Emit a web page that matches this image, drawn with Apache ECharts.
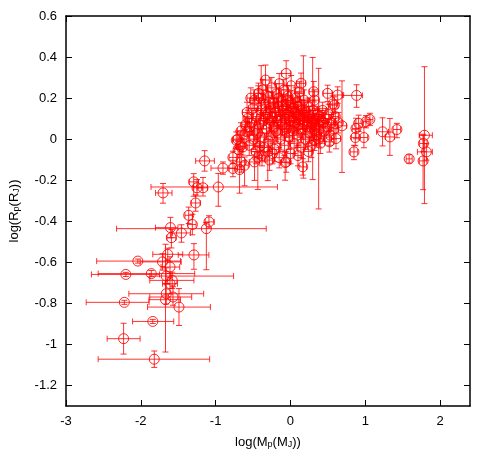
<!DOCTYPE html>
<html>
<head>
<meta charset="utf-8">
<script src="https://cdn.jsdelivr.net/npm/echarts@6/dist/echarts.min.js"></script>
<style>
  html, body { margin: 0; padding: 0; background: #fff; }
  #chart { width: 494px; height: 463px; }
</style>
</head>
<body>
<div id="chart"></div>
<script>
// each row: [log Mp, log Rp, mass err -, mass err +, radius err -, radius err +]
var lowMassPlanets = [
  [-2.04, -0.594, 0.55, 0.57, 0.01, 0.01],
  [-1.64, -0.561, 0.20, 0.20, 0.03, 0.03],
  [-1.29, -0.564, 0.21, 0.20, 0.07, 0.055],
  [-1.71, -0.598, 0.30, 0.25, 0.04, 0.04],
  [-1.61, -0.623, 0.12, 0.13, 0.05, 0.05],
  [-2.20, -0.659, 0.46, 0.45, 0.01, 0.01],
  [-1.86, -0.655, 0.71, 0.58, 0.015, 0.015],
  [-1.66, -0.667, 0.22, 0.90, 0.04, 0.04],
  [-1.58, -0.688, 0.30, 0.29, 0.04, 0.04],
  [-1.61, -0.704, 0.10, 0.10, 0.05, 0.05],
  [-1.66, -0.753, 0.50, 0.50, 0.05, 0.05],
  [-1.57, -0.769, 0.31, 0.25, 0.04, 0.05],
  [-1.67, -0.782, 0.22, 0.20, 0.255, 0.27],
  [-1.49, -0.818, 0.42, 0.42, 0.09, 0.09],
  [-2.22, -0.795, 0.51, 0.33, 0.01, 0.01],
  [-1.84, -0.888, 0.27, 0.28, 0.01, 0.01],
  [-2.23, -0.972, 0.22, 0.22, 0.075, 0.075],
  [-1.82, -1.072, 0.75, 0.74, 0.04, 0.04]
];

var transitionPlanets = [
  [-1.147, -0.106, 0.12, 0.13, 0.05, 0.05],
  [-0.902, -0.141, 0.16, 0.16, 0.03, 0.03],
  [-0.680, -0.148, 0.05, 0.05, 0.115, 0.10],
  [-1.703, -0.262, 0.10, 0.12, 0.05, 0.046],
  [-1.293, -0.208, 0.06, 0.06, 0.07, 0.04],
  [-1.169, -0.237, 0.08, 0.06, 0.04, 0.05],
  [-1.249, -0.237, 0.05, 0.07, 0.04, 0.04],
  [-0.964, -0.233, 0.90, 0.79, 0.094, 0.066],
  [-1.267, -0.311, 0.06, 0.06, 0.04, 0.04],
  [-1.360, -0.371, 0.05, 0.05, 0.04, 0.04],
  [-1.311, -0.416, 0.06, 0.05, 0.05, 0.05],
  [-1.089, -0.403, 0.05, 0.07, 0.03, 0.03],
  [-1.124, -0.436, 1.20, 0.80, 0.20, 0.03],
  [-1.604, -0.431, 0.20, 0.10, 0.05, 0.05],
  [-1.457, -0.457, 0.12, 0.12, 0.045, 0.04],
  [-1.591, -0.480, 0.06, 0.06, 0.05, 0.04],
  [-0.769, -0.089, 0.05, 0.05, 0.03, 0.03],
  [-0.657, -0.111, 0.06, 0.06, 0.05, 0.05],
  [-0.480, -0.111, 0.07, 0.07, 0.09, 0.05],
  [-0.436, -0.089, 0.05, 0.05, 0.156, 0.06],
  [-0.303, -0.062, 0.06, 0.06, 0.14, 0.06],
  [-0.071, -0.114, 0.06, 0.06, 0.086, 0.05],
  [-0.703, 0.000, 0.06, 0.05, 0.04, 0.04],
  [-0.636, -0.038, 0.05, 0.05, 0.04, 0.04],
  [-0.569, 0.101, 0.05, 0.05, 0.04, 0.04],
  [-0.547, 0.060, 0.05, 0.05, 0.04, 0.04],
  [-0.582, 0.036, 0.05, 0.06, 0.05, 0.05],
  [-0.493, 0.000, 0.05, 0.05, 0.05, 0.05],
  [-0.413, -0.034, 0.06, 0.06, 0.06, 0.05],
  [-0.769, -0.143, 0.05, 0.06, 0.04, 0.04],
  [-0.613, -0.127, 0.05, 0.05, 0.10, 0.04],
  [-0.671, -0.034, 0.05, 0.05, 0.04, 0.04],
  [-0.724, -0.005, 0.05, 0.05, 0.04, 0.04],
  [-0.280, -0.102, 0.05, 0.05, 0.05, 0.05],
  [0.164, -0.135, 0.05, 0.05, 0.04, 0.04],
  [-0.057, -0.111, 0.06, 0.06, 0.05, 0.05]
];

var clusterPlanets = [
  [-0.057, 0.320, 0.06, 0.06, 0.06, 0.062],
  [-0.333, 0.288, 0.05, 0.05, 0.05, 0.073],
  [0.142, 0.272, 0.06, 0.06, 0.05, 0.05],
  [0.311, 0.231, 0.06, 0.06, 0.05, 0.05],
  [-0.427, 0.223, 0.06, 0.06, 0.05, 0.05],
  [-0.480, 0.190, 0.06, 0.06, 0.05, 0.05],
  [0.320, 0.190, 0.06, 0.06, 0.05, 0.05],
  [0.609, 0.003, 0.06, 0.06, 0.05, 0.05],
  [0.387, 0.011, 0.07, 0.07, 0.05, 0.05],
  [0.520, -0.013, 0.06, 0.06, 0.05, 0.05],
  [0.320, -0.005, 0.06, 0.06, 0.05, 0.05],
  [0.173, 0.110, 0.07, 0.07, 0.30, 0.296],
  [0.297, 0.100, 0.07, 0.07, 0.297, 0.298],
  [0.377, 0.000, 0.07, 0.07, 0.34, 0.345],
  [-0.391, 0.200, 0.06, 0.06, 0.10, 0.158],
  [-0.62, 0.02, 0.05, 0.05, 0.04, 0.04],
  [-0.58, 0.13, 0.06, 0.06, 0.05, 0.05],
  [-0.55, -0.03, 0.05, 0.05, 0.05, 0.05],
  [-0.52, 0.08, 0.05, 0.06, 0.04, 0.04],
  [-0.50, 0.15, 0.06, 0.06, 0.05, 0.05],
  [-0.48, 0.04, 0.05, 0.05, 0.05, 0.05],
  [-0.46, -0.06, 0.06, 0.06, 0.06, 0.06],
  [-0.45, 0.11, 0.05, 0.05, 0.04, 0.04],
  [-0.43, 0.20, 0.05, 0.05, 0.06, 0.06],
  [-0.42, 0.07, 0.06, 0.06, 0.05, 0.05],
  [-0.40, 0.01, 0.05, 0.05, 0.05, 0.05],
  [-0.39, 0.14, 0.07, 0.07, 0.05, 0.05],
  [-0.37, 0.24, 0.05, 0.05, 0.05, 0.05],
  [-0.36, 0.09, 0.05, 0.05, 0.04, 0.04],
  [-0.35, -0.04, 0.06, 0.06, 0.07, 0.07],
  [-0.34, 0.17, 0.05, 0.05, 0.05, 0.05],
  [-0.32, 0.05, 0.06, 0.06, 0.05, 0.05],
  [-0.31, 0.12, 0.05, 0.05, 0.04, 0.04],
  [-0.30, 0.21, 0.06, 0.06, 0.05, 0.05],
  [-0.29, -0.01, 0.05, 0.05, 0.05, 0.05],
  [-0.28, 0.08, 0.06, 0.06, 0.05, 0.05],
  [-0.27, 0.15, 0.05, 0.05, 0.05, 0.05],
  [-0.26, 0.02, 0.05, 0.05, 0.06, 0.06],
  [-0.25, 0.25, 0.06, 0.06, 0.05, 0.05],
  [-0.24, 0.11, 0.05, 0.05, 0.04, 0.04],
  [-0.23, 0.18, 0.06, 0.06, 0.05, 0.05],
  [-0.22, 0.06, 0.05, 0.05, 0.05, 0.05],
  [-0.21, -0.05, 0.05, 0.05, 0.06, 0.06],
  [-0.20, 0.13, 0.06, 0.06, 0.05, 0.05],
  [-0.19, 0.22, 0.05, 0.05, 0.05, 0.05],
  [-0.18, 0.09, 0.05, 0.05, 0.04, 0.04],
  [-0.17, 0.03, 0.06, 0.06, 0.05, 0.05],
  [-0.16, 0.16, 0.05, 0.05, 0.05, 0.05],
  [-0.15, 0.27, 0.05, 0.05, 0.05, 0.05],
  [-0.14, 0.12, 0.06, 0.06, 0.04, 0.04],
  [-0.13, 0.00, 0.05, 0.05, 0.06, 0.06],
  [-0.12, 0.19, 0.05, 0.05, 0.05, 0.05],
  [-0.11, 0.07, 0.06, 0.06, 0.05, 0.05],
  [-0.10, 0.14, 0.05, 0.05, 0.04, 0.04],
  [-0.09, 0.24, 0.06, 0.06, 0.05, 0.05],
  [-0.08, -0.03, 0.05, 0.05, 0.05, 0.05],
  [-0.07, 0.10, 0.05, 0.05, 0.05, 0.05],
  [-0.06, 0.17, 0.06, 0.06, 0.05, 0.05],
  [-0.05, 0.05, 0.05, 0.05, 0.04, 0.04],
  [-0.04, 0.21, 0.05, 0.05, 0.05, 0.05],
  [-0.03, 0.13, 0.06, 0.06, 0.05, 0.05],
  [-0.02, 0.01, 0.05, 0.05, 0.06, 0.06],
  [-0.01, 0.09, 0.05, 0.05, 0.04, 0.04],
  [0.00, 0.18, 0.06, 0.06, 0.05, 0.05],
  [0.01, 0.26, 0.05, 0.05, 0.05, 0.05],
  [0.02, 0.11, 0.05, 0.05, 0.05, 0.05],
  [0.03, 0.04, 0.06, 0.06, 0.05, 0.05],
  [0.04, 0.15, 0.05, 0.05, 0.04, 0.04],
  [0.05, -0.02, 0.05, 0.05, 0.05, 0.05],
  [0.06, 0.08, 0.06, 0.06, 0.05, 0.05],
  [0.07, 0.20, 0.05, 0.05, 0.05, 0.05],
  [0.08, 0.12, 0.05, 0.05, 0.04, 0.04],
  [0.09, 0.02, 0.06, 0.06, 0.06, 0.06],
  [0.10, 0.16, 0.05, 0.05, 0.05, 0.05],
  [0.11, 0.07, 0.05, 0.05, 0.05, 0.05],
  [0.12, 0.23, 0.06, 0.06, 0.05, 0.05],
  [0.13, 0.10, 0.05, 0.05, 0.04, 0.04],
  [0.14, -0.04, 0.05, 0.05, 0.05, 0.05],
  [0.15, 0.14, 0.06, 0.06, 0.05, 0.05],
  [0.16, 0.05, 0.05, 0.05, 0.05, 0.05],
  [0.18, 0.19, 0.05, 0.05, 0.05, 0.05],
  [0.19, 0.09, 0.06, 0.06, 0.04, 0.04],
  [0.20, 0.00, 0.05, 0.05, 0.05, 0.05],
  [0.21, 0.13, 0.05, 0.05, 0.05, 0.05],
  [0.22, 0.06, 0.06, 0.06, 0.05, 0.05],
  [0.24, 0.16, 0.05, 0.05, 0.04, 0.04],
  [0.25, 0.03, 0.05, 0.05, 0.05, 0.05],
  [0.26, 0.11, 0.06, 0.06, 0.05, 0.05],
  [0.28, -0.03, 0.05, 0.05, 0.06, 0.06],
  [0.29, 0.08, 0.05, 0.05, 0.04, 0.04],
  [0.30, 0.14, 0.06, 0.06, 0.05, 0.05],
  [0.32, 0.05, 0.05, 0.05, 0.05, 0.05],
  [0.33, 0.10, 0.05, 0.05, 0.05, 0.05],
  [0.35, 0.02, 0.06, 0.06, 0.05, 0.05],
  [0.36, 0.12, 0.05, 0.05, 0.04, 0.04],
  [0.38, 0.07, 0.05, 0.05, 0.05, 0.05],
  [0.40, -0.02, 0.06, 0.06, 0.05, 0.05],
  [0.41, 0.09, 0.05, 0.05, 0.05, 0.05],
  [0.43, 0.14, 0.05, 0.05, 0.04, 0.04],
  [0.45, 0.04, 0.06, 0.06, 0.05, 0.05],
  [0.47, 0.10, 0.05, 0.05, 0.05, 0.05],
  [0.49, 0.06, 0.05, 0.05, 0.04, 0.04],
  [0.51, 0.12, 0.06, 0.06, 0.05, 0.05],
  [0.53, 0.02, 0.05, 0.05, 0.05, 0.05],
  [0.55, 0.08, 0.05, 0.05, 0.04, 0.04],
  [0.58, 0.05, 0.06, 0.06, 0.05, 0.05],
  [0.60, 0.11, 0.05, 0.05, 0.04, 0.04],
  [0.64, 0.08, 0.05, 0.05, 0.05, 0.05],
  [-0.33, 0.13, 0.05, 0.05, 0.05, 0.05],
  [-0.29, 0.18, 0.06, 0.06, 0.05, 0.05],
  [-0.26, 0.09, 0.05, 0.05, 0.04, 0.04],
  [-0.21, 0.15, 0.05, 0.05, 0.05, 0.05],
  [-0.19, 0.04, 0.06, 0.06, 0.05, 0.05],
  [-0.16, 0.20, 0.05, 0.05, 0.05, 0.05],
  [-0.13, 0.09, 0.05, 0.05, 0.04, 0.04],
  [-0.11, 0.16, 0.06, 0.06, 0.05, 0.05],
  [-0.08, 0.06, 0.05, 0.05, 0.05, 0.05],
  [-0.06, 0.12, 0.05, 0.05, 0.04, 0.04],
  [-0.03, 0.19, 0.06, 0.06, 0.05, 0.05],
  [-0.01, 0.04, 0.05, 0.05, 0.05, 0.05],
  [0.02, 0.15, 0.05, 0.05, 0.05, 0.05],
  [0.04, 0.09, 0.06, 0.06, 0.04, 0.04],
  [0.06, 0.13, 0.05, 0.05, 0.05, 0.05],
  [0.09, 0.18, 0.05, 0.05, 0.05, 0.05],
  [0.11, 0.12, 0.06, 0.06, 0.05, 0.05],
  [0.13, 0.05, 0.05, 0.05, 0.04, 0.04],
  [0.16, 0.10, 0.05, 0.05, 0.05, 0.05],
  [0.19, 0.14, 0.06, 0.06, 0.05, 0.05],
  [0.23, 0.09, 0.05, 0.05, 0.04, 0.04],
  [0.27, 0.06, 0.05, 0.05, 0.05, 0.05],
  [0.31, 0.09, 0.06, 0.06, 0.05, 0.05],
  [0.34, 0.06, 0.05, 0.05, 0.05, 0.05],
  [0.39, 0.11, 0.05, 0.05, 0.04, 0.04],
  [0.44, 0.08, 0.06, 0.06, 0.05, 0.05],
  [-0.40, 0.10, 0.05, 0.05, 0.05, 0.05],
  [-0.44, 0.03, 0.06, 0.06, 0.05, 0.05],
  [-0.38, -0.08, 0.05, 0.05, 0.05, 0.05],
  [-0.24, -0.07, 0.05, 0.05, 0.05, 0.05],
  [-0.15, -0.09, 0.06, 0.06, 0.05, 0.05],
  [0.00, -0.07, 0.05, 0.05, 0.05, 0.05],
  [0.10, -0.08, 0.05, 0.05, 0.05, 0.05],
  [0.24, -0.06, 0.06, 0.06, 0.05, 0.05],
  [-0.53, 0.20, 0.05, 0.05, 0.05, 0.05],
  [-0.60, 0.07, 0.05, 0.05, 0.04, 0.04],
  [-0.66, 0.04, 0.05, 0.05, 0.04, 0.04],
  [-0.70, -0.05, 0.05, 0.05, 0.04, 0.04]
];

var heavyPlanets = [
  [0.497, 0.223, 0.06, 0.06, 0.04, 0.04],
  [0.631, 0.215, 0.07, 0.08, 0.04, 0.04],
  [0.884, 0.213, 0.19, 0.08, 0.058, 0.052],
  [0.564, 0.171, 0.05, 0.05, 0.04, 0.04],
  [0.587, 0.166, 0.05, 0.05, 0.04, 0.04],
  [0.689, 0.065, 0.06, 0.06, 0.227, 0.219],
  [0.876, 0.052, 0.05, 0.05, 0.05, 0.05],
  [0.867, 0.008, 0.05, 0.05, 0.04, 0.04],
  [0.982, 0.008, 0.05, 0.05, 0.05, 0.05],
  [0.849, -0.062, 0.05, 0.05, 0.038, 0.032],
  [0.911, 0.077, 0.05, 0.05, 0.04, 0.04],
  [1.009, 0.085, 0.04, 0.04, 0.03, 0.03],
  [1.062, 0.096, 0.04, 0.04, 0.03, 0.03],
  [1.231, 0.036, 0.08, 0.08, 0.069, 0.068],
  [1.329, 0.011, 0.06, 0.06, 0.09, 0.09],
  [1.423, 0.047, 0.05, 0.05, 0.04, 0.03],
  [1.587, -0.096, 0.04, 0.04, 0.02, 0.02],
  [1.791, 0.019, 0.07, 0.106, 0.333, 0.334],
  [1.777, -0.021, 0.05, 0.05, 0.04, 0.04],
  [1.817, -0.062, 0.12, 0.08, 0.04, 0.04],
  [1.773, -0.106, 0.05, 0.05, 0.14, 0.13]
];

var massTicks = [-3, -2, -1, 0, 1, 2];
var radiusTicks = [-1.2, -1, -0.8, -0.6, -0.4, -0.2, 0, 0.2, 0.4, 0.6];

var planets = lowMassPlanets.concat(transitionPlanets, clusterPlanets, heavyPlanets);

var chartDom = document.getElementById("chart");
var myChart = echarts.init(chartDom);
var font = "'Liberation Sans', Arial, sans-serif";
var red = "#ff0000";

// subscripts: smaller text sitting low in the line box
var nameRich = {
  t: { fontSize: 13, fontFamily: font, color: "#000", lineHeight: 22, verticalAlign: "bottom" },
  s: { fontSize: 9, fontFamily: font, color: "#000", lineHeight: 10, verticalAlign: "bottom" }
};

function mirrorAxis(pos, ticks) {
  return {
    type: "value",
    position: pos,
    axisLine: { show: true, onZero: false, lineStyle: { color: "#000", width: 1.5 } },
    axisTick: { show: true, inside: true, length: 6, customValues: ticks, lineStyle: { color: "#000", width: 1 } },
    axisLabel: { show: false },
    splitLine: { show: false }
  };
}

var xMain = {
  type: "value",
  min: -3,
  max: 2.4,
  position: "bottom",
  name: "{t|log(M}{s|p}{t|(M}{s|J}{t|))}",
  nameLocation: "middle",
  nameGap: 21,
  nameTextStyle: { rich: nameRich },
  axisLine: { show: true, onZero: false, lineStyle: { color: "#000", width: 1.5 } },
  axisTick: { show: true, inside: true, length: 6, customValues: massTicks, lineStyle: { color: "#000", width: 1 } },
  axisLabel: { customValues: massTicks, color: "#000", fontSize: 13, fontFamily: font, margin: 9 },
  splitLine: { show: false }
};
var xTop = Object.assign(mirrorAxis("top", massTicks), { min: -3, max: 2.4 });

var yMain = {
  type: "value",
  min: -1.3,
  max: 0.6,
  position: "left",
  name: "{t|log(R}{s|p}{t|(R}{s|J}{t|))}",
  nameLocation: "middle",
  nameGap: 45,
  nameRotate: 90,
  nameTextStyle: { rich: nameRich },
  axisLine: { show: true, onZero: false, lineStyle: { color: "#000", width: 1.5 } },
  axisTick: { show: true, inside: true, length: 6, customValues: radiusTicks, lineStyle: { color: "#000", width: 1 } },
  axisLabel: { customValues: radiusTicks, color: "#000", fontSize: 13, fontFamily: font, margin: 9 },
  splitLine: { show: false }
};
var yRight = Object.assign(mirrorAxis("right", radiusTicks), { min: -1.3, max: 0.6 });

var option = {
  animation: false,
  backgroundColor: "#fff",
  grid: { left: 66, right: 24, top: 16, bottom: 57, containLabel: false },
  xAxis: [xMain, xTop],
  yAxis: [yMain, yRight],
  series: [
    {
      type: "custom",
      xAxisIndex: 0,
      yAxisIndex: 0,
      clip: true,
      data: planets,
      encode: { x: 0, y: 1 },
      renderItem: function (params, api) {
        var x = api.value(0);
        var y = api.value(1);
        var l = api.coord([x - api.value(2), y]);
        var r = api.coord([x + api.value(3), y]);
        var b = api.coord([x, y - api.value(4)]);
        var t = api.coord([x, y + api.value(5)]);
        var cap = 3;
        var style = { stroke: red, lineWidth: 1, opacity: 0.8 };
        var seg = function (x1, y1, x2, y2) {
          return { type: "line", shape: { x1: x1, y1: y1, x2: x2, y2: y2 }, style: style };
        };
        return {
          type: "group",
          children: [
            seg(l[0], l[1], r[0], r[1]),
            seg(l[0], l[1] - cap, l[0], l[1] + cap),
            seg(r[0], r[1] - cap, r[0], r[1] + cap),
            seg(b[0], b[1], t[0], t[1]),
            seg(b[0] - cap, b[1], b[0] + cap, b[1]),
            seg(t[0] - cap, t[1], t[0] + cap, t[1])
          ]
        };
      },
      silent: true,
      z: 2
    },
    {
      type: "scatter",
      xAxisIndex: 0,
      yAxisIndex: 0,
      symbol: "circle",
      symbolSize: 10,
      data: planets.map(function (p) { return [p[0], p[1]]; }),
      itemStyle: { color: "rgba(0,0,0,0)", borderColor: red, borderWidth: 1, opacity: 0.85 },
      silent: true,
      z: 3
    }
  ]
};

option && myChart.setOption(option);
</script>
</body>
</html>
